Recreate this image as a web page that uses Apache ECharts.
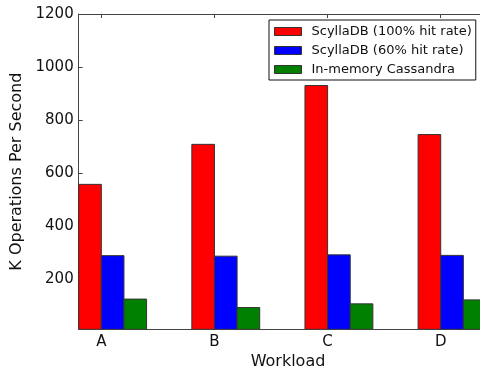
<!DOCTYPE html>
<html><head><meta charset="utf-8">
<script src="https://cdn.jsdelivr.net/npm/echarts@6/dist/echarts.min.js"></script>
<style>html,body{margin:0;padding:0;background:#fff}#c{width:480px;height:372px}</style>
</head><body><div id="c"></div>
<script>
const categories = ['A', 'B', 'C', 'D'];
const scylla100 = [557, 708, 930, 745];
const scylla60 = [288, 286, 291, 289];
const cassandra = [124, 92, 106, 121];
const seriesNames = ['ScyllaDB (100% hit rate)', 'ScyllaDB (60% hit rate)', 'In-memory Cassandra'];
const yTicks = [200, 400, 600, 800, 1000, 1200];

const colors = ['#ff0000', '#0000ff', '#008000'];
const barW = 0.2;
const offsets = [-0.2, 0, 0.2];
const yMin = 10, yMax = 1200;
const xMin = -0.2, xMax = 3.5;
const catTicks = categories.map((c, i) => i);
const FONT = 'DejaVu Sans';

function makeSeries(name, values, idx) {
  return {
    type: 'custom', name: name, clip: true,
    itemStyle: { color: colors[idx], borderColor: '#333', borderWidth: 1 },
    data: values.map((v, i) => [i, v]),
    encode: { x: 0, y: 1 },
    renderItem: function (params, api) {
      const i = api.value(0), v = api.value(1);
      const p0 = api.coord([i + offsets[idx], v]);
      const p1 = api.coord([i + offsets[idx] + barW, yMin]);
      return {
        type: 'rect',
        shape: { x: p0[0], y: p0[1], width: p1[0] - p0[0], height: p1[1] - p0[1] },
        style: { fill: colors[idx], stroke: '#333', lineWidth: 1 }
      };
    }
  };
}

const axisLine = { show: true, onZero: false, lineStyle: { color: '#444', width: 1 } };
const chart = echarts.init(document.getElementById('c'), null, { renderer: 'canvas' });
chart.setOption({
  animation: false,
  backgroundColor: '#fff',
  textStyle: { fontFamily: FONT },
  grid: { left: 78.7, top: 14, width: 418.6, height: 315.3, containLabel: false, outerBoundsMode: 'none' },
  legend: {
    orient: 'vertical', left: 269, top: 20,
    itemWidth: 27, itemHeight: 8, itemGap: 6,
    padding: [5, 4, 4, 5],
    borderColor: '#111', borderWidth: 1, borderRadius: 0, backgroundColor: '#fff',
    icon: 'rect',
    itemStyle: { borderColor: '#333', borderWidth: 1 },
    textStyle: { fontSize: 13, fontFamily: FONT, color: '#111', padding: [0, 0, 0, 5] },
    data: seriesNames
  },
  xAxis: [{
    type: 'value', min: xMin, max: xMax, position: 'bottom',
    axisLine: axisLine,
    axisTick: { show: true, inside: true, length: 4, customValues: catTicks, lineStyle: { color: '#444' } },
    axisLabel: { customValues: catTicks, formatter: v => categories[Math.round(v)], fontSize: 15, color: '#111', margin: 5, fontFamily: FONT },
    splitLine: { show: false },
    name: 'Workload', nameLocation: 'middle', nameGap: 24,
    nameTextStyle: { fontSize: 16, color: '#111', fontFamily: FONT }
  }, {
    type: 'value', min: xMin, max: xMax, position: 'top',
    axisLine: axisLine,
    axisTick: { show: true, inside: true, length: 4, customValues: catTicks, lineStyle: { color: '#444' } },
    axisLabel: { show: false },
    splitLine: { show: false }
  }],
  yAxis: [{
    type: 'value', min: yMin, max: yMax,
    axisLine: axisLine,
    axisTick: { show: true, inside: true, length: 4, customValues: yTicks, lineStyle: { color: '#444' } },
    axisLabel: { customValues: yTicks, formatter: v => String(v), fontSize: 15, color: '#111', margin: 5, fontFamily: FONT },
    splitLine: { show: false },
    name: 'K Operations Per Second', nameLocation: 'middle', nameGap: 45, nameRotate: 90,
    nameTextStyle: { fontSize: 16, color: '#111', fontFamily: FONT }
  }],
  series: [
    makeSeries(seriesNames[0], scylla100, 0),
    makeSeries(seriesNames[1], scylla60, 1),
    makeSeries(seriesNames[2], cassandra, 2)
  ]
});
</script></body></html>
